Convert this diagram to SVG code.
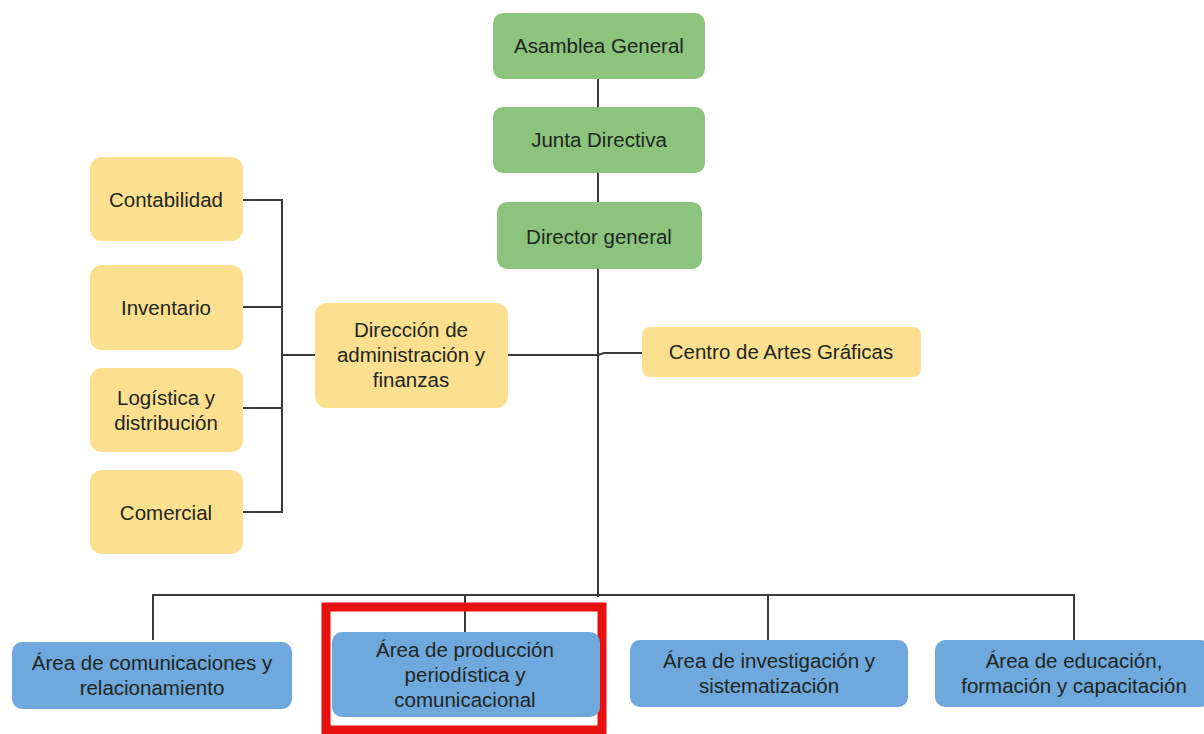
<svg xmlns="http://www.w3.org/2000/svg" width="1204" height="734" viewBox="0 0 1204 734">
<style>
.g{fill:#8cc47e}
.y{fill:#fde08f}
.b{fill:#6fa8dc}
text{font-family:"Liberation Sans",Arial,sans-serif;font-size:20.5px;fill:#1e261e;text-anchor:middle}
.c{fill:none;stroke:#3a3a3a;stroke-width:2}
</style>
<rect width="1204" height="734" fill="#ffffff"/>
<g id="connectors">
<path class="c" d="M598 79V107M598 173V202M598 269V597"/>
<path class="c" d="M153 640V595H1074V640M465 595V632M768 595V640"/>
<path class="c" d="M243 200H282V512H243M243 307H282M243 408H282M282 355H315"/>
<path class="c" d="M508 355H598L604 353H642"/>
</g>
<g id="n-asamblea"><rect class="g" x="493" y="13" width="212" height="66" rx="10"/><text x="599" y="53">Asamblea General</text></g>
<g id="n-junta"><rect class="g" x="493" y="107" width="212" height="66" rx="10"/><text x="599" y="147">Junta Directiva</text></g>
<g id="n-director"><rect class="g" x="497" y="202" width="205" height="67" rx="10"/><text x="599" y="244">Director general</text></g>
<g id="n-contabilidad"><rect class="y" x="90" y="157" width="153" height="84" rx="12"/><text x="166" y="207">Contabilidad</text></g>
<g id="n-inventario"><rect class="y" x="90" y="265" width="153" height="85" rx="12"/><text x="166" y="315">Inventario</text></g>
<g id="n-logistica"><rect class="y" x="90" y="368" width="153" height="84" rx="12"/><text x="166" y="405">Logística y</text><text x="166" y="430">distribución</text></g>
<g id="n-comercial"><rect class="y" x="90" y="470" width="153" height="84" rx="12"/><text x="166" y="520">Comercial</text></g>
<g id="n-direccion"><rect class="y" x="315" y="303" width="193" height="105" rx="12"/><text x="411" y="337">Dirección de</text><text x="411" y="362">administración y</text><text x="411" y="387">finanzas</text></g>
<g id="n-centro"><rect class="y" x="642" y="327" width="279" height="50" rx="8"/><text x="781" y="359">Centro de Artes Gráficas</text></g>
<g id="n-comunicaciones"><rect class="b" x="12" y="642" width="280" height="67" rx="10"/><text x="152" y="670">Área de comunicaciones y</text><text x="152" y="695">relacionamiento</text></g>
<g id="n-produccion"><rect x="326" y="607" width="276" height="123" fill="none" stroke="#e8100f" stroke-width="9"/><rect class="b" x="332" y="632" width="268" height="85" rx="10"/><text x="465" y="657">Área de producción</text><text x="465" y="682">periodística y</text><text x="465" y="707">comunicacional</text></g>
<g id="n-investigacion"><rect class="b" x="630" y="640" width="278" height="67" rx="10"/><text x="769" y="668">Área de investigación y</text><text x="769" y="693">sistematización</text></g>
<g id="n-educacion"><rect class="b" x="935" y="640" width="275" height="67" rx="10"/><text x="1074" y="668">Área de educación,</text><text x="1074" y="693">formación y capacitación</text></g>
</svg>
